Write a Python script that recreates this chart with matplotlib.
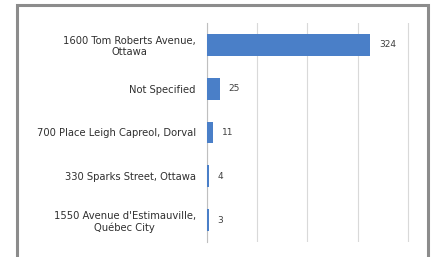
import matplotlib
matplotlib.use("Agg")
import matplotlib.pyplot as plt
from matplotlib.patches import Rectangle

# addresses (top to bottom) and counts
labels = ["1600 Tom Roberts Avenue,\nOttawa",
          "Not Specified",
          "700 Place Leigh Capreol, Dorval",
          "330 Sparks Street, Ottawa",
          "1550 Avenue d'Estimauville,\nQuébec City"]
counts = [324, 25, 11, 4, 3]
xticks = [0, 100, 200, 300, 400]

fig = plt.figure(figsize=(4.35, 2.57), dpi=100)
fig.patch.set_facecolor("white")

# outer chart frame
fig.patches.append(Rectangle((17/435, -0.05), (428-17)/435, 1.05 - 5/257,
                             transform=fig.transFigure, fill=False,
                             edgecolor="#8c8c8c", linewidth=2.2))

ax = fig.add_axes([207/435, 15/257, (410-207)/435, (234-15)/257])
pos = list(range(len(labels)))[::-1]
ax.barh(pos, counts, height=0.5, color="#4a7fc8", zorder=3)
for p, v in zip(pos, counts):
    ax.text(v + 18, p, str(v), va="center", ha="left", fontsize=6.5, color="#404040")

ax.set_xlim(0, 404)
ax.set_ylim(-0.5, len(labels) - 0.5)
ax.set_xticks(xticks)
ax.set_xticklabels([])
ax.tick_params(axis="x", length=0)
ax.grid(axis="x", color="#d9d9d9", linewidth=0.8, zorder=0)
ax.set_yticks(pos)
ax.set_yticklabels(labels, fontsize=7.2, color="#303030")
for t in ax.get_yticklabels():
    t.set_multialignment("center")
ax.tick_params(axis="y", length=0, pad=8)
for s in ["top", "right", "bottom"]:
    ax.spines[s].set_visible(False)
ax.spines["left"].set_color("#bfbfbf")

fig.savefig("out.png", dpi=100)
